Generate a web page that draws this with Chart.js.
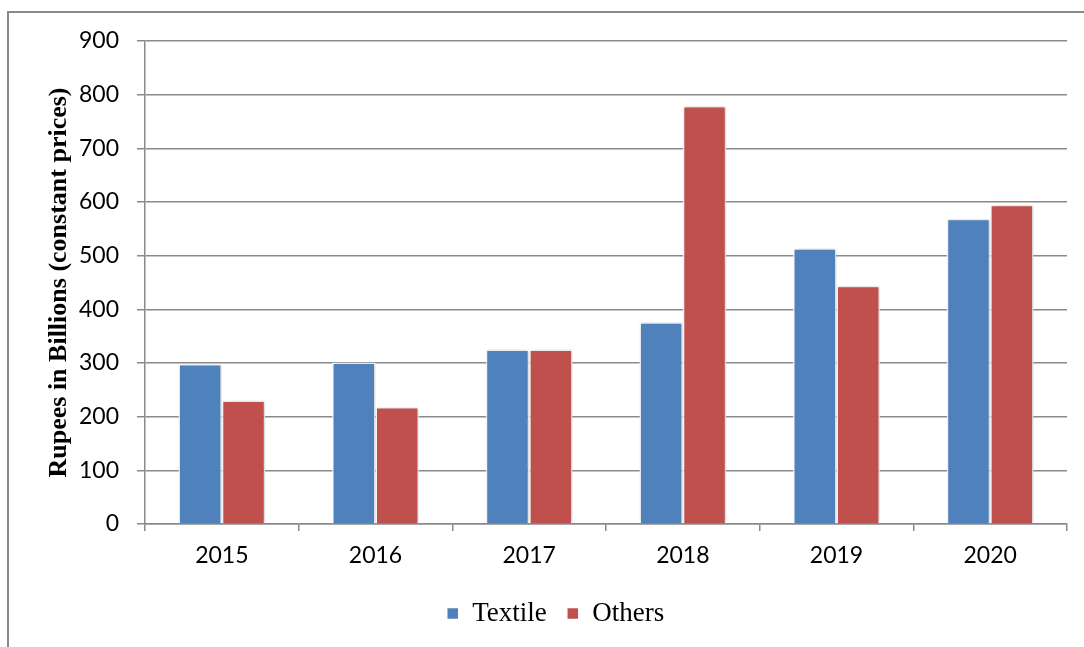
<!DOCTYPE html>
<html>
<head>
<meta charset="utf-8">
<script src="https://cdn.jsdelivr.net/npm/chart.js@4/dist/chart.umd.min.js"></script>
<style>
    html, body { margin: 0; padding: 0; background: #fff; }
    #wrap { position: relative; width: 1084px; height: 647px; overflow: hidden; }
    #frame {
        position: absolute; left: 7px; top: 11px; width: 1200px; height: 800px;
        border-left: 2px solid #8a8a8a; border-top: 2px solid #8a8a8a;
    }
    #chart { position: absolute; left: 0; top: 0; }
</style>
</head>
<body>
<div id="wrap">
    <div id="frame"></div>
    <canvas id="chart" width="1084" height="647"></canvas>
</div>
<script>
const years = ['2015', '2016', '2017', '2018', '2019', '2020'];
const textileValues = [298, 301, 325, 376, 514, 569];
const othersValues = [230, 218, 325, 779, 444, 595];
const yTicks = [0, 100, 200, 300, 400, 500, 600, 700, 800, 900];

const gridGray = '#8a8a8a';

const barShadow = {
    id: 'barShadow',
    beforeDatasetsDraw(chart) {
        const ctx = chart.ctx;
        ctx.save();
        ctx.shadowColor = 'rgba(0, 0, 0, 0.22)';
        ctx.shadowBlur = 4;
        ctx.shadowOffsetX = 1;
        ctx.shadowOffsetY = 0;
    },
    afterDatasetsDraw(chart) {
        chart.ctx.restore();
    },
};

const ctx = document.getElementById('chart').getContext('2d');
new Chart(ctx, {
    type: 'bar',
    data: {
        labels: years,
        datasets: [
            {
                label: 'Textile',
                data: textileValues,
                backgroundColor: '#4f81bd',
                borderColor: '#ffffff',
                borderWidth: 1.5,
            },
            {
                label: 'Others',
                data: othersValues,
                backgroundColor: '#c0504d',
                borderColor: '#ffffff',
                borderWidth: 1.5,
            },
        ],
    },
    options: {
        responsive: false,
        animation: false,
        categoryPercentage: 0.565,
        barPercentage: 1,
        layout: {
            padding: { top: 41, right: 17, bottom: 10, left: 44 },
        },
        plugins: {
            tooltip: { enabled: false },
            legend: {
                position: 'bottom',
                labels: {
                    boxWidth: 12,
                    boxHeight: 12,
                    padding: 20,
                    color: '#000',
                    font: { family: '"Liberation Serif", "Times New Roman", serif', size: 27 },
                },
            },
        },
        scales: {
            x: {
                grid: {
                    drawOnChartArea: false,
                    drawTicks: true,
                    tickLength: 7,
                    color: gridGray,
                    lineWidth: 1.5,
                },
                border: { color: gridGray, width: 1.5 },
                ticks: {
                    color: '#000',
                    padding: 11,
                    font: { family: 'Lato, "Open Sans", sans-serif', size: 23 },
                },
                afterFit(axis) {
                    axis.height = 56;
                },
            },
            y: {
                min: 0,
                max: 900,
                afterBuildTicks(axis) {
                    axis.ticks = yTicks.map((v) => ({ value: v }));
                },
                grid: {
                    color: gridGray,
                    lineWidth: 1.5,
                    tickLength: 8,
                },
                border: { color: gridGray, width: 1.5 },
                ticks: {
                    color: '#000',
                    padding: 18,
                    font: { family: 'Lato, "Open Sans", sans-serif', size: 23 },
                },
                title: {
                    display: true,
                    text: 'Rupees in Billions (constant prices)',
                    color: '#000',
                    padding: 0,
                    font: { family: '"Liberation Serif", "Times New Roman", serif', size: 26, weight: 'bold' },
                },
                afterFit(axis) {
                    axis.width = 101;
                },
            },
        },
    },
    plugins: [barShadow],
});
</script>
</body>
</html>
